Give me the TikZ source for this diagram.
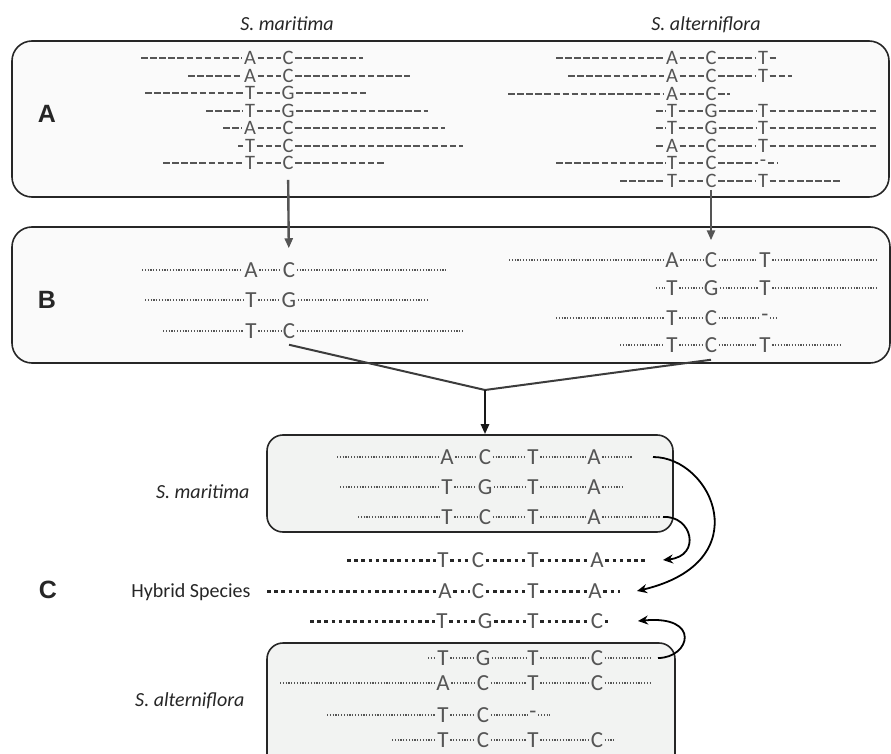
\documentclass[tikz,border=0pt]{standalone}
\usepackage{fontspec}
\setmainfont{Carlito}
\newfontfamily\panelfont{Liberation Sans}
\usetikzlibrary{arrows.meta, positioning}

\definecolor{seqgray}{HTML}{555555}
\definecolor{panelA}{HTML}{FAFAFA}
\definecolor{panelC}{HTML}{F2F3F2}
\definecolor{edge}{HTML}{262626}

% one aligned read: name, line style, y, left end, right end, x/base list
\newcommand{\seqrow}[6]{%
  \coordinate (#1-0) at (#4,#3);
  \foreach \x/\ch [count=\i, remember=\i as \p (initially 0)] in {#6} {
    \node[base] (#1-\i) at (\x,#3) {\ch};
    \draw[#2] (#1-\p) -- (#1-\i);
    \xdef\lastbase{\i}
  }
  \coordinate (#1-e) at (#5,#3);
  \draw[#2] (#1-\lastbase) -- (#1-e);
}

\begin{document}
\begin{tikzpicture}[x=1pt, y=-1pt,
    base/.style={font=\fontsize{23}{24}\selectfont, text=seqgray, inner xsep=1.5pt, inner ysep=0pt},
    dashA/.style={draw=seqgray, line width=1.8pt, dash pattern=on 6.5pt off 2.6pt},
    dotB/.style={draw=seqgray, line width=1.3pt, dash pattern=on 1.2pt off 1.6pt},
    dotH/.style={draw=black!85, line width=3pt, dash pattern=on 3.6pt off 3.6pt},
    panel/.style={draw=edge, line width=1.6pt, rounded corners=20pt, fill=panelA, inner sep=0pt},
    subpanel/.style={panel, rounded corners=16pt, fill=panelC},
    tag/.style={font=\panelfont\bfseries\fontsize{25}{26}\selectfont, text=black!85},
    species/.style={font=\itshape\fontsize{20}{22}\selectfont, text=black!85},
    down/.style={draw=seqgray, line width=2.4pt, -{Triangle[width=8pt,length=10pt]}},
    feed/.style={draw=edge!90, line width=2pt},
    curv/.style={draw=black, line width=1.8pt, -{Stealth[width=9pt,length=10pt]}}]
  \clip (0,0) rectangle (891,754);

  % panels
  \node[panel, minimum width=877pt, minimum height=156pt] (boxA) at (450.5,119) {};
  \node[panel, minimum width=878pt, minimum height=136pt] (boxB) at (451,295) {};
  \node[subpanel, minimum width=406pt, minimum height=97pt] (boxC1) at (470,483.5) {};
  \node[subpanel, minimum width=408pt, minimum height=127pt] (boxC2) at (471,706.5) {};

  \node[tag] (tagA) at (47,114) {A};
  \node[tag] (tagB) at (47,300) {B};
  \node[tag] (tagC) at (48,590) {C};

  \node[species, anchor=base] (titleM) at (287,31) {S. maritima};
  \node[species, anchor=base] (titleA) at (706,31) {S. alterniflora};
  \node[species, anchor=base east] (nameM) at (253,498) {S. maritima};
  \node[species, anchor=base east] (nameA) at (248,706) {S. alterniflora};
  \node[anchor=base east, font=\fontsize{20}{22}\selectfont, text=black!85] (hybrid) at (254,597) {Hybrid Species};

  % A: raw reads
  \begin{scope}[base/.append style={font=\fontsize{20.5}{21}\selectfont}]
  \seqrow{al1}{dashA}{58}{141}{363}{250/A,288/C}
  \seqrow{al2}{dashA}{76}{188}{410}{250/A,288/C}
  \seqrow{al3}{dashA}{93}{145}{367}{250/T,288/G}
  \seqrow{al4}{dashA}{111}{206}{428}{250/T,288/G}
  \seqrow{al5}{dashA}{128}{223}{445}{250/A,288/C}
  \seqrow{al6}{dashA}{146}{238}{463}{250/T,288/C}
  \seqrow{al7}{dashA}{163}{163}{385}{250/T,288/C}

  \seqrow{ar1}{dashA}{58}{556}{778}{672/A,711/C,763/T}
  \seqrow{ar2}{dashA}{76}{568}{792}{672/A,711/C,763/T}
  \seqrow{ar3}{dashA}{94}{508}{730}{672/A,711/C}
  \seqrow{ar4}{dashA}{111}{656}{878}{672/T,711/G,763/T}
  \seqrow{ar5}{dashA}{128}{656}{878}{672/T,711/G,763/T}
  \seqrow{ar6}{dashA}{146}{656}{878}{672/A,711/C,763/T}
  \seqrow{ar7}{dashA}{163}{556}{778}{672/T,711/C,763/-}
  \seqrow{ar8}{dashA}{181}{620}{842}{672/T,711/C,763/T}
  \end{scope}

  % B: assembled haplotypes
  \seqrow{bl1}{dotB}{270}{142}{446}{251/A,289/C}
  \seqrow{bl2}{dotB}{300}{145}{428}{251/T,289/G}
  \seqrow{bl3}{dotB}{331}{163}{464}{251/T,289/C}

  \seqrow{br1}{dotB}{260}{509}{877}{672/A,711/C,765/T}
  \seqrow{br2}{dotB}{288}{656}{877}{672/T,711/G,765/T}
  \seqrow{br3}{dotB}{318}{556}{778}{672/T,711/C,765/-}
  \seqrow{br4}{dotB}{345}{620}{842}{672/T,711/C,765/T}

  % C: parents and hybrid
  \seqrow{c1r1}{dotB}{457}{337}{633}{447/A,485/C,533/T,594/A}
  \seqrow{c1r2}{dotB}{487}{340}{623}{447/T,485/G,533/T,594/A}
  \seqrow{c1r3}{dotB}{517}{358}{660}{447/T,485/C,533/T,594/A}

  \seqrow{h1}{dotH}{560}{347}{647}{443/T,478/C,533/T,597/A}
  \seqrow{h2}{dotH}{591}{267}{620}{445/A,478/C,533/T,595/A}
  \seqrow{h3}{dotH}{621}{310}{612}{442/T,485/G,533/T,597/C}

  \seqrow{c2r1}{dotB}{658}{428}{650}{443/T,483/G,533/T,597/C}
  \seqrow{c2r2}{dotB}{683}{280}{650}{443/A,483/C,533/T,597/C}
  \seqrow{c2r3}{dotB}{715}{327}{550}{443/T,483/C,533/-}
  \seqrow{c2r4}{dotB}{740}{392}{615}{443/T,483/C,533/T,597/C}

  % connectors
  \draw[down, shorten <=10pt, shorten >=14pt] (al7-2) -- (bl1-2);
  \draw[down, shorten <=2pt, shorten >=12pt] (ar8-2) -- (br1-2);

  \coordinate (jn) at (485,390);
  \draw[feed] ([yshift=-6pt]bl3-2.south) -- (jn) -- ([yshift=-7pt]br4-2.south);
  \draw[down, draw=black!90, line width=2.6pt] (jn) -- (jn |- boxC1.north);

  \draw[curv] ([xshift=20pt]c1r1-e) .. controls (712,457) and (760,562) .. ([xshift=17pt]h2-e);
  \draw[curv] ([xshift=3pt]c1r3-e) .. controls (692,515) and (702,556) .. ([xshift=16pt]h1-e);
  \draw[curv] ([xshift=8pt]c2r1-e) .. controls (690,658) and (702,615) .. ([xshift=26pt]h3-e);
\end{tikzpicture}
\end{document}
